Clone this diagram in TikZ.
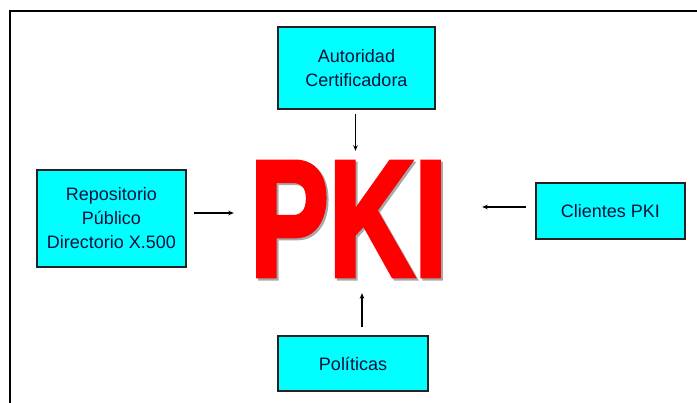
\documentclass[tikz,border=0pt]{standalone}
\usepackage{fontspec}
\usepackage{xcolor}
\usetikzlibrary{arrows.meta}
\setmainfont{Liberation Sans}
\newfontfamily\pkifont[FakeBold=3]{Liberation Sans Bold}
\definecolor{pkicyan}{HTML}{00FFFF}
\definecolor{pkired}{HTML}{FF0000}
\definecolor{pkiink}{HTML}{10103A}
\definecolor{pkiedge}{HTML}{222222}
\definecolor{pkishade}{HTML}{A8A8A8}
\newcommand{\pkiword}{\resizebox{197pt}{114pt}{\pkifont PKI}}

\begin{document}
\begin{tikzpicture}[
  x=1pt,
  y=-1pt,
  every node/.style={font=\fontsize{18}{24}\selectfont, pkiink},
  block/.style={draw=pkiedge, fill=pkicyan, line width=1.4pt,
    align=center, inner sep=0pt},
  feed/.style={black, line width=1.1pt, -{Stealth[length=5.5pt, width=4.5pt]}},
  frame/.style={black, line width=2pt}
]
  \useasboundingbox (0,0) rectangle (697,403);

  % ---- outer frame ------------------------------------------------------
  \draw[frame] (10,410) -- (10,11) -- (710,11);

  % ---- the four blocks -------------------------------------------------
  \node[block, minimum width=157pt, minimum height=82pt] (ca) at (356.5,68)
    {Autoridad\\Certificadora};
  \node[block, minimum width=149pt, minimum height=97pt] (repo) at (111.5,218.5)
    {Repositorio\\P\'ublico\\Directorio X.500};
  \node[block, minimum width=149pt, minimum height=56pt] (cli) at (610.5,211)
    {Clientes PKI};
  \node[block, minimum width=150pt, minimum height=55pt] (pol) at (353,363.5)
    {Pol\'iticas};

  % ---- PKI, with its grey shadow ---------------------------------------
  \node[inner sep=0pt] (pki) at (348.5,220)
    {\rlap{\hspace{2pt}\raisebox{-2pt}{\textcolor{pkishade}{\pkiword}}}%
     \textcolor{pkired}{\pkiword}};

  % ---- arrows into PKI -------------------------------------------------
  \draw[feed, shorten <=4pt, shorten >=11pt]
    ([xshift=-1pt]ca.south) -- ([xshift=-1pt]ca.south |- pki.north);
  \draw[feed, shorten <=7pt, shorten >=16pt]
    ([yshift=5.5pt]repo.east) -- ([yshift=5.5pt]repo.east -| pki.west);
  \draw[feed, shorten <=9pt, shorten >=35pt]
    ([yshift=4pt]cli.west) -- ([yshift=4pt]cli.west -| pki.east);
  \draw[feed, shorten <=8pt, shorten >=15pt]
    ([xshift=9pt]pol.north) -- ([xshift=9pt]pol.north |- pki.south);
\end{tikzpicture}
\end{document}
